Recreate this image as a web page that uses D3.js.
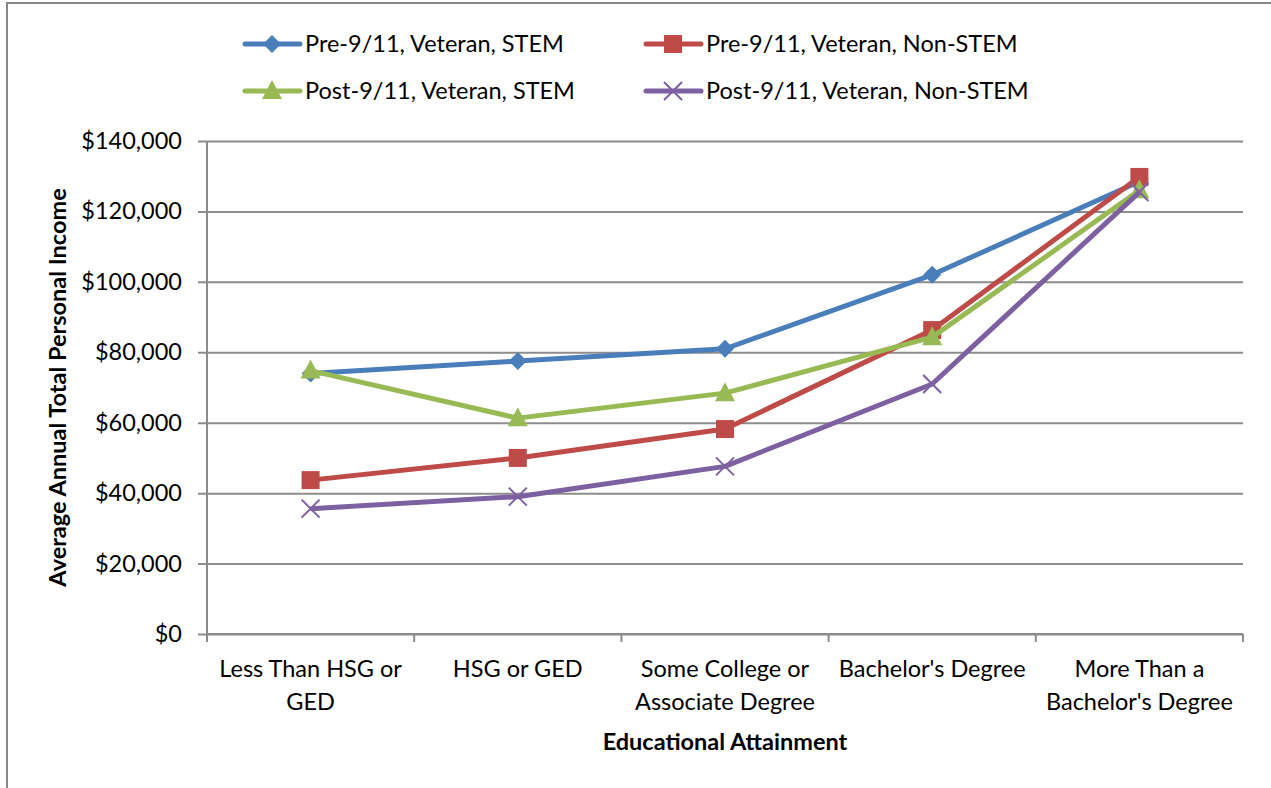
<!DOCTYPE html>
<html>
<head>
<meta charset="utf-8">
<script src="https://cdn.jsdelivr.net/npm/d3@7"></script>
<style>
  body { margin: 0; background: #fff; }
  text { font-family: Lato, "Open Sans", sans-serif; fill: #000; }
</style>
</head>
<body>
<div id="chart"></div>
<script>
// categories on the x axis (each may wrap onto two lines)
var categories = [
  ["Less Than HSG or", "GED"],
  ["HSG or GED"],
  ["Some College or", "Associate Degree"],
  ["Bachelor's Degree"],
  ["More Than a", "Bachelor's Degree"]
];

// series values
var preStem    = [74000, 77500, 81000, 102000, 128500];
var preNonStem = [43700, 50000, 58200, 86300, 129800];
var postStem   = [74800, 61300, 68400, 84300, 126000];
var postNonStem = [35600, 39000, 47600, 71000, 125500];

var seriesNames = [
  "Pre-9/11, Veteran, STEM",
  "Pre-9/11, Veteran, Non-STEM",
  "Post-9/11, Veteran, STEM",
  "Post-9/11, Veteran, Non-STEM"
];
var seriesColors = ["#4a7ebb", "#be4b48", "#98b954", "#7d60a0"];
var seriesMarkers = ["diamond", "square", "triangle", "x"];

var yTicks = [0, 20000, 40000, 60000, 80000, 100000, 120000, 140000];

var seriesData = [preStem, preNonStem, postStem, postNonStem];

//Width and height
var w = 1271;
var h = 788;
var margin = {left: 207, right: 28, top: 141, bottom: 154};
var fontSize = "23.5px";

var svg = d3.select("#chart")
    .append("svg")
    .attr("width", w)
    .attr("height", h);

//outer chart frame
svg.append("rect")
  .attr("x", 7).attr("y", 3)
  .attr("width", w + 20).attr("height", h + 20)
  .attr("fill", "none")
  .attr("stroke", "#868686")
  .attr("stroke-width", 2);

var x = d3.scaleBand()
  .domain(d3.range(categories.length))
  .range([margin.left, w - margin.right]);

var y = d3.scaleLinear()
  .domain([0, 140000])
  .range([h - margin.bottom, margin.top]);

//Gridlines + y axis
var yAxis = d3.axisLeft(y)
  .tickValues(yTicks)
  .tickSize(-(w - margin.right - margin.left))
  .tickFormat(function(d){ return "$" + d3.format(",")(d); });

var gy = svg.append("g")
  .attr("transform", "translate(" + margin.left + ",0)")
  .call(yAxis);
gy.select(".domain").remove();
gy.selectAll(".tick line")
  .attr("x1", -9)
  .attr("stroke", "#8c8c8c")
  .attr("stroke-width", 2);
gy.selectAll(".tick text")
  .style("font-size", fontSize)
  .attr("x", -25);

//y axis line
svg.append("line")
  .attr("x1", margin.left).attr("x2", margin.left)
  .attr("y1", margin.top).attr("y2", h - margin.bottom)
  .attr("stroke", "#8c8c8c").attr("stroke-width", 2);

//x axis with ticks between categories
var gx = svg.append("g");
gx.append("line")
  .attr("x1", margin.left).attr("x2", w - margin.right)
  .attr("y1", y(0)).attr("y2", y(0))
  .attr("stroke", "#8c8c8c").attr("stroke-width", 2);
gx.selectAll(".xtick")
  .data(d3.range(categories.length + 1))
  .enter()
  .append("line")
  .attr("x1", function(i){ return margin.left + i * x.step(); })
  .attr("x2", function(i){ return margin.left + i * x.step(); })
  .attr("y1", y(0))
  .attr("y2", y(0) + 8)
  .attr("stroke", "#8c8c8c").attr("stroke-width", 2);

gx.selectAll(".xlabel")
  .data(categories)
  .enter()
  .append("text")
  .attr("text-anchor", "middle")
  .style("font-size", fontSize)
  .attr("y", y(0) + 43)
  .each(function(d, i){
    var t = d3.select(this);
    d.forEach(function(line, j){
      t.append("tspan")
        .attr("x", x(i) + x.bandwidth() / 2)
        .attr("dy", j == 0 ? 0 : 33)
        .text(line);
    });
  });

//axis titles
svg.append("text")
  .attr("x", x(2) + x.bandwidth() / 2)
  .attr("y", 750)
  .attr("text-anchor", "middle")
  .style("font-size", fontSize)
  .style("font-weight", "bold")
  .text("Educational Attainment");

svg.append("text")
  .attr("transform", "translate(66," + ((margin.top + h - margin.bottom) / 2) + ") rotate(-90)")
  .attr("text-anchor", "middle")
  .style("font-size", fontSize)
  .style("font-weight", "bold")
  .text("Average Annual Total Personal Income");

//marker drawing
function drawMarker(g, type, color, cx, cy) {
  if (type == "diamond") {
    g.append("path")
      .attr("d", "M" + cx + "," + (cy - 9) + "L" + (cx + 9) + "," + cy + "L" + cx + "," + (cy + 9) + "L" + (cx - 9) + "," + cy + "Z")
      .attr("fill", color);
  } else if (type == "square") {
    g.append("rect")
      .attr("x", cx - 9).attr("y", cy - 9)
      .attr("width", 18).attr("height", 18)
      .attr("fill", color);
  } else if (type == "triangle") {
    g.append("path")
      .attr("d", "M" + cx + "," + (cy - 11) + "L" + (cx + 10) + "," + (cy + 8) + "L" + (cx - 10) + "," + (cy + 8) + "Z")
      .attr("fill", color);
  } else {
    g.append("path")
      .attr("d", "M" + (cx - 9) + "," + (cy - 9) + "L" + (cx + 9) + "," + (cy + 9) + "M" + (cx + 9) + "," + (cy - 9) + "L" + (cx - 9) + "," + (cy + 9))
      .attr("stroke", color)
      .attr("stroke-width", 2)
      .attr("fill", "none");
  }
}

var line = d3.line()
  .x(function(d, i){ return x(i) + x.bandwidth() / 2; })
  .y(function(d){ return y(d); });

seriesData.forEach(function(vals, s){
  var g = svg.append("g");
  g.append("path")
    .datum(vals)
    .attr("d", line)
    .attr("fill", "none")
    .attr("stroke", seriesColors[s])
    .attr("stroke-width", 5)
    .attr("stroke-linejoin", "round");
  vals.forEach(function(v, i){
    drawMarker(g, seriesMarkers[s], seriesColors[s], x(i) + x.bandwidth() / 2, y(v));
  });
});

//Legend
var legendPos = [[245, 44], [646, 44], [245, 91], [646, 91]];
seriesNames.forEach(function(name, s){
  var lx = legendPos[s][0], ly = legendPos[s][1];
  var g = svg.append("g");
  g.append("line")
    .attr("x1", lx).attr("x2", lx + 55)
    .attr("y1", ly).attr("y2", ly)
    .attr("stroke", seriesColors[s])
    .attr("stroke-width", 5)
    .attr("stroke-linecap", "round");
  drawMarker(g, seriesMarkers[s], seriesColors[s], lx + 27, ly);
  g.append("text")
    .attr("x", lx + 60)
    .attr("y", ly + 8)
    .style("font-size", fontSize)
    .text(name);
});
</script>
</body>
</html>
